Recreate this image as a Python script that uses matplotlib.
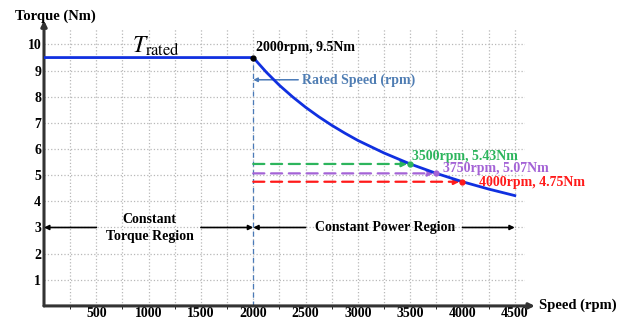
import matplotlib.pyplot as plt

# torque-speed curve
speed = [0, 2000, 2125, 2250, 2375, 2500, 2625, 2750, 2875, 3000, 3250, 3500, 3750, 4000, 4250, 4500]
torque = [9.5, 9.5, 8.94, 8.44, 8.0, 7.6, 7.24, 6.91, 6.61, 6.33, 5.85, 5.43, 5.07, 4.75, 4.47, 4.22]

rated_speed = 2000
rated_torque = 9.5

# marked operating points
point_speed = [3500, 3750, 4000]
point_torque = [5.43, 5.07, 4.75]
point_labels = ["3500rpm, 5.43Nm", "3750rpm, 5.07Nm", "4000rpm, 4.75Nm"]
point_colors = ["#2db55d", "#a463d6", "#ff1a1a"]

x_ticks = [500, 1000, 1500, 2000, 2500, 3000, 3500, 4000, 4500]
y_ticks = [1, 2, 3, 4, 5, 6, 7, 8, 9, 10]

plt.rcParams['font.family'] = ['Liberation Serif', 'DejaVu Serif']
plt.rcParams['mathtext.fontset'] = 'stix'

fig = plt.figure(figsize=(6.25, 3.2), dpi=100)
ax = fig.add_axes([0.0704, 0.044, 0.77, 0.866])

ax.set_xticks(x_ticks)
ax.set_xticks([v - 250 for v in x_ticks], minor=True)
ax.set_yticks(y_ticks)
ax.set_xticklabels([str(v) for v in x_ticks], fontweight='bold', fontsize=10)
ax.set_yticklabels([str(v) for v in y_ticks], fontweight='bold', fontsize=10)
ax.set_xlim(0, 4600)
ax.set_ylim(0, 10.6)
ax.tick_params(length=0, pad=2)
ax.tick_params(axis='x', pad=0.5)
ax.grid(True, which='both', axis='x', color='#b8b8b8', linestyle=':', linewidth=0.9)
ax.grid(True, which='major', axis='y', color='#b8b8b8', linestyle=':', linewidth=0.9)
for s in ax.spines.values():
    s.set_visible(False)

# axes with arrow heads
ax.annotate('', xy=(0, 1.03), xytext=(0, 0), xycoords='axes fraction',
            arrowprops=dict(arrowstyle='-|>', color='#333333', lw=2.2, mutation_scale=8,
                            shrinkA=0, shrinkB=0), annotation_clip=False)
ax.annotate('', xy=(1.02, 0), xytext=(0, 0), xycoords='axes fraction',
            arrowprops=dict(arrowstyle='-|>', color='#333333', lw=2.2, mutation_scale=8,
                            shrinkA=0, shrinkB=0), annotation_clip=False)
fig.text(0.024, 0.95, "Torque (Nm)", fontsize=10.5, fontweight='bold', va='center')
fig.text(0.862, 0.045, "Speed (rpm)", fontsize=10.5, fontweight='bold', va='center')

# rated speed marker
ax.plot([rated_speed, rated_speed], [0, rated_torque], color='#4a7ab8', lw=0.9,
        linestyle=(0, (4, 3)))

# dashed guides to the marked points
for sp, tq, c in zip(point_speed, point_torque, point_colors):
    ax.annotate('', xy=(sp, tq), xytext=(rated_speed, tq),
                arrowprops=dict(arrowstyle='-|>', color=c, lw=1.6, linestyle=(0, (5, 3)),
                                mutation_scale=8, shrinkA=0, shrinkB=2))

ax.plot(speed, torque, color='#1030e0', lw=2.0, solid_joinstyle='round', zorder=4)
ax.plot([rated_speed], [rated_torque], 'o', color='black', ms=3.5, zorder=5)
for sp, tq, c in zip(point_speed, point_torque, point_colors):
    ax.plot([sp], [tq], 'o', color=c, ms=3.5, zorder=5)

ax.text(845, 9.93, r'$T_{\mathrm{rated}}$', fontsize=17, ha='left', va='center')
ax.text(2025, 9.87, "2000rpm, 9.5Nm", fontsize=10, fontweight='bold', va='center')

ax.annotate('', xy=(2000, 8.65), xytext=(2430, 8.65),
            arrowprops=dict(arrowstyle='-|>', color='#4a7ab8', lw=1.1, mutation_scale=6,
                            shrinkA=0, shrinkB=0))
ax.text(2470, 8.65, "Rated Speed (rpm)", color='#4f7db3', fontsize=10, fontweight='bold',
        va='center')

label_pos = [(3520, 5.72), (3810, 5.25), (4160, 4.72)]
for (lx, ly), lab, c in zip(label_pos, point_labels, point_colors):
    ax.text(lx, ly, lab, color=c, fontsize=10, fontweight='bold', va='center')

# region arrows
arrow_kw = dict(arrowstyle='-|>', color='black', lw=1.2, mutation_scale=7, shrinkA=0, shrinkB=0)
ax.annotate('', xy=(0, 3), xytext=(500, 3), arrowprops=arrow_kw)
ax.annotate('', xy=(2000, 3), xytext=(1500, 3), arrowprops=arrow_kw)
ax.text(1010, 3.3, "Constant", fontsize=10, fontweight='bold', ha='center', va='center')
ax.text(1010, 2.64, "Torque Region", fontsize=10, fontweight='bold', ha='center', va='center')

ax.annotate('', xy=(2000, 3), xytext=(2500, 3), arrowprops=arrow_kw)
ax.annotate('', xy=(4500, 3), xytext=(4000, 3), arrowprops=arrow_kw)
ax.text(3260, 3, "Constant Power Region", fontsize=10, fontweight='bold', ha='center',
        va='center')

fig.savefig("out.png", dpi=100)
